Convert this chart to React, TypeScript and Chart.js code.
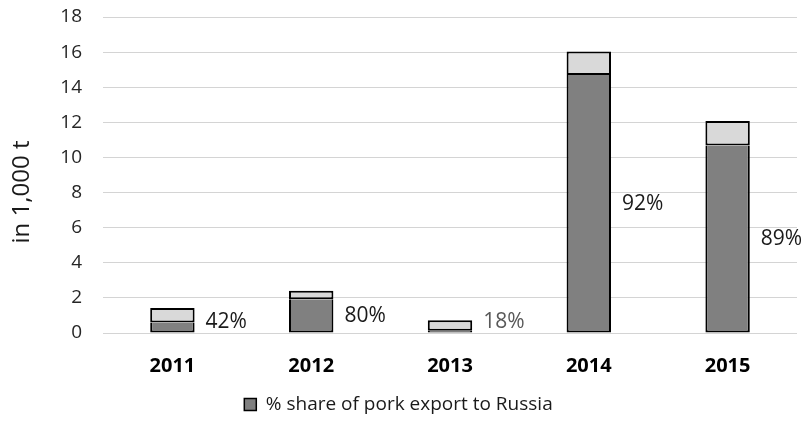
import React, { useEffect, useRef } from "react";
import { Chart, registerables } from "chart.js";

Chart.register(...registerables);

const years = ["2011", "2012", "2013", "2014", "2015"];
const russiaExport = [0.6, 1.92, 0.13, 14.7, 10.68];
const otherExport = [0.83, 0.48, 0.59, 1.33, 1.4];
const shareLabels = ["42%", "80%", "18%", "92%", "89%"];
const shareLabelColors = ["#1a1a1a", "#1a1a1a", "#595959", "#1a1a1a", "#1a1a1a"];
const legendText = "% share of pork export to Russia";
const yTitle = "in 1,000 t";
const yMin = 0;
const yMax = 18;
const yStep = 2;

const FONT = "'Open Sans', sans-serif";

const labelPlugin = {
  id: "shareLabels",
  afterDatasetsDraw(chart: any) {
    const ctx = chart.ctx;
    const meta = chart.getDatasetMeta(0);
    const yScale = chart.scales.y;
    ctx.save();
    ctx.font = `21px ${FONT}`;
    ctx.textAlign = "left";
    ctx.textBaseline = "middle";
    meta.data.forEach((bar: any, i: number) => {
      const v = Math.max(russiaExport[i] / 2, 0.6);
      ctx.fillStyle = shareLabelColors[i];
      ctx.fillText(shareLabels[i], bar.x + bar.width / 2 + 11, yScale.getPixelForValue(v));
    });
    ctx.restore();
  },
};

const titlePlugin = {
  id: "yTitle",
  afterDraw(chart: any) {
    const ctx = chart.ctx;
    const area = chart.chartArea;
    ctx.save();
    ctx.font = `24px ${FONT}`;
    ctx.fillStyle = "#1a1a1a";
    ctx.textAlign = "center";
    ctx.textBaseline = "middle";
    ctx.translate(22, (area.top + area.bottom) / 2 + 17);
    ctx.rotate(-Math.PI / 2);
    ctx.fillText(yTitle, 0, 0);
    ctx.restore();
  },
};

export default function App() {
  const ref = useRef<HTMLCanvasElement | null>(null);
  useEffect(() => {
    if (!ref.current) return;
    const chart = new Chart(ref.current, {
      type: "bar",
      data: {
        labels: years,
        datasets: [
          {
            label: legendText,
            data: russiaExport,
            backgroundColor: "#808080",
            borderColor: "#000000",
            borderWidth: { top: 0, right: 2, bottom: 2, left: 2 },
            borderSkipped: false,
            barPercentage: 0.32,
            categoryPercentage: 1,
          },
          {
            label: "other",
            data: otherExport,
            backgroundColor: "#d9d9d9",
            borderColor: "#000000",
            borderWidth: 2,
            borderSkipped: false,
            barPercentage: 0.32,
            categoryPercentage: 1,
          },
        ],
      },
      options: {
        animation: false,
        responsive: false,
        layout: { padding: { top: 17, right: 4, bottom: 6, left: 0 } },
        plugins: {
          legend: {
            position: "bottom",
            labels: {
              filter: (item: any) => item.datasetIndex === 0,
              font: { family: FONT, size: 19 },
              color: "#1a1a1a",
              boxWidth: 12,
              boxHeight: 12,
              padding: 8,
            },
          },
          tooltip: { enabled: false },
        },
        scales: {
          x: {
            stacked: true,
            grid: { display: false, drawTicks: false },
            border: { display: false },
            ticks: {
              font: { family: FONT, size: 20, weight: "bold" },
              color: "#000000",
              padding: 21,
            },
            afterFit: (s: any) => {
              s.height = 54;
            },
          },
          y: {
            stacked: true,
            min: yMin,
            max: yMax,
            grid: { color: "#d4d4d4", lineWidth: 1, drawTicks: true, tickLength: 18, tickColor: "rgba(0,0,0,0)" },
            border: { display: false },
            ticks: {
              stepSize: yStep,
              font: { family: FONT, size: 19 },
              color: "#262626",
              padding: 3,
            },
            afterFit: (s: any) => {
              s.width = 103;
            },
          },
        },
      },
      plugins: [labelPlugin, titlePlugin],
    });
    return () => chart.destroy();
  }, []);
  return (
    <div style={{ position: "absolute", left: 0, top: 0, width: 801, height: 430, background: "#fff" }}>
      <canvas ref={ref} width={801} height={430} />
    </div>
  );
}
